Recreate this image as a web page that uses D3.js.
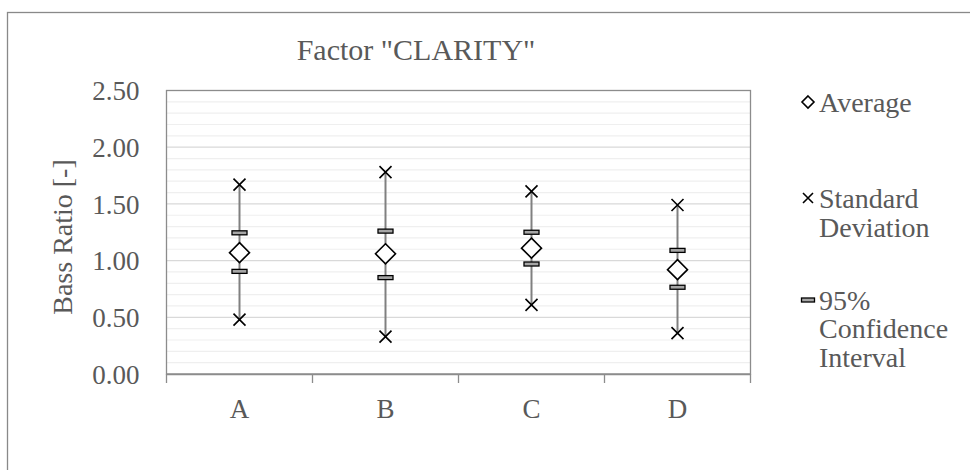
<!DOCTYPE html>
<html><head><meta charset="utf-8">
<script src="https://cdn.jsdelivr.net/npm/d3@7/dist/d3.min.js"></script>
<style>body{margin:0;background:#fff}svg{display:block}text{font-family:"Liberation Serif","DejaVu Serif",serif;fill:#595959}</style>
</head><body><svg id="c" width="970" height="470"></svg>
<script>
const categories = ["A","B","C","D"];
const average = [1.07, 1.06, 1.11, 0.92];
const sdUpper = [1.67, 1.78, 1.61, 1.49];
const sdLower = [0.48, 0.33, 0.61, 0.36];
const ciUpper = [1.245, 1.26, 1.25, 1.09];
const ciLower = [0.905, 0.85, 0.97, 0.765];
const yTicks = [0, 0.5, 1.0, 1.5, 2.0, 2.5];
const minorTicks = d3.range(0, 2.51, 0.1);
const legendItems = [["Average"], ["Standard", "Deviation"], ["95%", "Confidence", "Interval"]];

const svg = d3.select("#c");
svg.append("rect").attr("x",7.5).attr("y",12.5).attr("width",1000).attr("height",1000)
  .attr("fill","#fff").attr("stroke","#898989").attr("stroke-width",1.3);

const L=166.5, R=750.5, T=90.5, B=374;
const x = d3.scaleBand().domain(categories).range([L,R]);
const y = d3.scaleLinear().domain([0,2.5]).range([B,T]);

svg.append("g").selectAll("line").data(minorTicks.filter(v=>Math.round(v*10)%5!==0)).join("line")
  .attr("x1",L).attr("x2",R).attr("y1",d=>y(d)).attr("y2",d=>y(d))
  .attr("stroke","#efefef").attr("stroke-width",1.2);
svg.append("g").selectAll("line").data(yTicks).join("line")
  .attr("x1",L).attr("x2",R).attr("y1",d=>y(d)).attr("y2",d=>y(d))
  .attr("stroke","#d9d9d9").attr("stroke-width",1.2);
svg.append("rect").attr("x",L).attr("y",T).attr("width",R-L).attr("height",B-T)
  .attr("fill","none").attr("stroke","#8c8c8c").attr("stroke-width",1.3);

const ya = svg.append("g").attr("transform",`translate(${L},0)`)
  .call(d3.axisLeft(y).tickValues(yTicks).tickFormat(d3.format(".2f")).tickSize(0).tickPadding(27));
ya.select(".domain").remove();
ya.selectAll("text").attr("font-size",27).style("font-family","Liberation Serif").attr("fill","#595959").attr("dy","0.34em");

const xa = svg.append("g").attr("transform",`translate(0,${B})`)
  .call(d3.axisBottom(x).tickSize(0).tickPadding(25));
xa.select(".domain").attr("stroke","#8c8c8c").attr("stroke-width",1.3);
xa.selectAll("text").attr("font-size",27).style("font-family","Liberation Serif").attr("fill","#595959");
svg.append("g").selectAll("line").data(d3.range(categories.length+1)).join("line")
  .attr("x1",i=>L+i*x.step()).attr("x2",i=>L+i*x.step()).attr("y1",B).attr("y2",B+9)
  .attr("stroke","#8c8c8c").attr("stroke-width",1.3);

svg.append("text").attr("x",416).attr("y",60).attr("text-anchor","middle")
  .attr("font-size",30).text('Factor "CLARITY"');
svg.append("text").attr("transform","translate(72,237) rotate(-90)").attr("text-anchor","middle")
  .attr("font-size",28).text("Bass Ratio [-]");

const cx = i => x(categories[i]) + x.bandwidth()/2;
const g = svg.append("g");
categories.forEach((c,i)=>{
  g.append("line").attr("x1",cx(i)).attr("x2",cx(i)).attr("y1",y(sdLower[i])).attr("y2",y(sdUpper[i]))
    .attr("stroke","#808080").attr("stroke-width",2);
});
function xMark(sel, px, py, s){
  sel.append("path").attr("d",`M${px-s},${py-s}L${px+s},${py+s}M${px-s},${py+s}L${px+s},${py-s}`)
    .attr("stroke","#000").attr("stroke-width",1.6).attr("fill","none");
}
function ciMark(sel, px, py, w, h){
  sel.append("rect").attr("x",px-w/2).attr("y",py-h/2).attr("width",w).attr("height",h)
    .attr("fill","#a6a6a6").attr("stroke","#000").attr("stroke-width",1.3);
}
function diamond(sel, px, py, r){
  sel.append("path").attr("d",`M${px},${py-r}L${px+r},${py}L${px},${py+r}L${px-r},${py}Z`)
    .attr("fill","#fff").attr("stroke","#000").attr("stroke-width",1.6);
}
categories.forEach((c,i)=>{
  xMark(g,cx(i),y(sdUpper[i]),6);
  xMark(g,cx(i),y(sdLower[i]),6);
  ciMark(g,cx(i),y(ciUpper[i]),15,4);
  ciMark(g,cx(i),y(ciLower[i]),15,4);
  diamond(g,cx(i),y(average[i]),10);
});

const lg = svg.append("g");
const rows = [[102],[198,227],[300,328,357]];
diamond(lg,808,rows[0][0],6);
xMark(lg,808,rows[1][0],5);
ciMark(lg,808,rows[2][0],13,4);
legendItems.forEach((lines,k)=>{
  lines.forEach((t,j)=>{
    lg.append("text").attr("x",819).attr("y",rows[k][j]).attr("dy","0.35em").attr("font-size",28).text(t);
  });
});
</script></body></html>
